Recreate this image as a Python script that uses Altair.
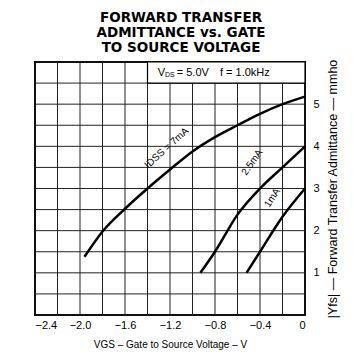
import altair as alt
import pandas as pd

# Curve data (V_GS in volts, |Yfs| in mmho)
idss7_x = [-1.96, -1.8, -1.6, -1.4, -1.2, -1.0, -0.8, -0.6, -0.4, -0.2, 0.0]
idss7_y = [1.38, 1.98, 2.52, 3.0, 3.45, 3.88, 4.22, 4.5, 4.77, 5.0, 5.18]
idss25_x = [-0.93, -0.8, -0.6, -0.4, -0.2, 0.0]
idss25_y = [1.0, 1.5, 2.38, 3.0, 3.5, 4.0]
idss1_x = [-0.52, -0.4, -0.2, 0.0]
idss1_y = [1.0, 1.5, 2.33, 3.0]

x_grid = [-2.4, -2.2, -2.0, -1.8, -1.6, -1.4, -1.2, -1.0, -0.8, -0.6, -0.4, -0.2, 0.0]
y_grid = [0, 0.5, 1, 1.5, 2, 2.5, 3, 3.5, 4, 4.5, 5, 5.5, 6]

rows = []
for name, xs_, ys_ in [("7mA", idss7_x, idss7_y), ("2.5mA", idss25_x, idss25_y), ("1mA", idss1_x, idss1_y)]:
    for i, (a, b) in enumerate(zip(xs_, ys_)):
        rows.append({"vgs": a, "yfs": b, "curve": name, "order": i})
df = pd.DataFrame(rows)

xs = alt.Scale(domain=[-2.4, 0], nice=False, zero=False)
ys = alt.Scale(domain=[0, 6], nice=False, zero=False)

xaxis = alt.Axis(
    values=x_grid, grid=False, domain=False, ticks=False,
    labelExpr="abs(round(datum.value*10)) % 4 == 0 ? (datum.value == 0 ? '0' : format(datum.value, '.1f')) : ''",
    labelFont="Liberation Sans", labelFontSize=11, labelColor="black", labelPadding=4,
    title="VGS – Gate to Source Voltage – V", titleFont="Liberation Sans", titleFontSize=10,
    titleFontWeight="normal", titleColor="black", titlePadding=9,
)
yaxis = alt.Axis(
    orient="right", values=y_grid, grid=False, domain=False, ticks=False,
    labelExpr="datum.value % 1 == 0 && datum.value > 0 && datum.value < 6 ? format(datum.value, 'd') : ''",
    labelFont="Liberation Sans", labelFontSize=11, labelColor="black", labelPadding=8,
    title="|Yfs| — Forward Transfer Admittance — mmho", titleAngle=270, titleFont="Liberation Sans",
    titleFontSize=12.5, titleFontWeight="normal", titleColor="black", titlePadding=20,
)

vgrid = alt.Chart(pd.DataFrame({"gx": x_grid})).mark_rule(color="#222222", strokeWidth=1).encode(
    x=alt.X("gx:Q", scale=xs)
)
hgrid = alt.Chart(pd.DataFrame({"gy": y_grid})).mark_rule(color="#222222", strokeWidth=1).encode(
    y=alt.Y("gy:Q", scale=ys)
)

lines = alt.Chart(df).mark_line(color="black", strokeWidth=2.5, interpolate="monotone").encode(
    x=alt.X("vgs:Q", scale=xs, axis=xaxis),
    y=alt.Y("yfs:Q", scale=ys, axis=yaxis),
    detail="curve:N",
    order="order:Q",
)

box_df = pd.DataFrame({"x": [-1.4], "x2": [0.0], "y": [5.5], "y2": [6.0]})
box = alt.Chart(box_df).mark_rect(fill="white", stroke="black", strokeWidth=1.2).encode(
    x=alt.X("x:Q", scale=xs), x2="x2:Q", y=alt.Y("y:Q", scale=ys), y2="y2:Q"
)

cond_df = pd.DataFrame({"x": [-1.31, -1.245, -1.14, -0.756], "y": [5.75, 5.7, 5.75, 5.75],
                        "t": ["V", "DS", "= 5.0V", "f = 1.0kHz"], "s": [11, 7, 11, 11]})
cond = alt.Chart(cond_df).mark_text(align="left", baseline="middle", font="Liberation Sans", color="black").encode(
    x=alt.X("x:Q", scale=xs), y=alt.Y("y:Q", scale=ys), text="t:N",
    size=alt.Size("s:Q", scale=None, legend=None),
)

lab_df = pd.DataFrame({"x": [-1.23, -0.47, -0.29], "y": [3.96, 3.62, 2.78],
                       "t": ["IDSS = 7mA", "2.5mA", "1mA"], "a": [318, 305, 303]})
labs = alt.Chart(lab_df).mark_text(align="center", baseline="middle", font="Liberation Sans",
                                   fontSize=10, color="black").encode(
    x=alt.X("x:Q", scale=xs), y=alt.Y("y:Q", scale=ys), text="t:N",
    angle=alt.Angle("a:Q", scale=None),
)

chart = alt.layer(vgrid, hgrid, lines, box, cond, labs).properties(
    width=270, height=253,
    padding={"left": 27, "top": 54, "right": 40, "bottom": 36},
    autosize=alt.AutoSizeParams(type="none"),
    background="white",
    title=alt.TitleParams(
        ["FORWARD TRANSFER", "ADMITTANCE vs. GATE", "TO SOURCE VOLTAGE"],
        font="DejaVu Sans", fontSize=13.5, fontWeight="bold", color="black",
        lineHeight=15, anchor="middle", dx=11, offset=4,
    ),
).configure_view(stroke="black", strokeWidth=2).configure_axis(grid=False)

chart.save("out.html", embed_options={"renderer": "svg", "actions": False})
